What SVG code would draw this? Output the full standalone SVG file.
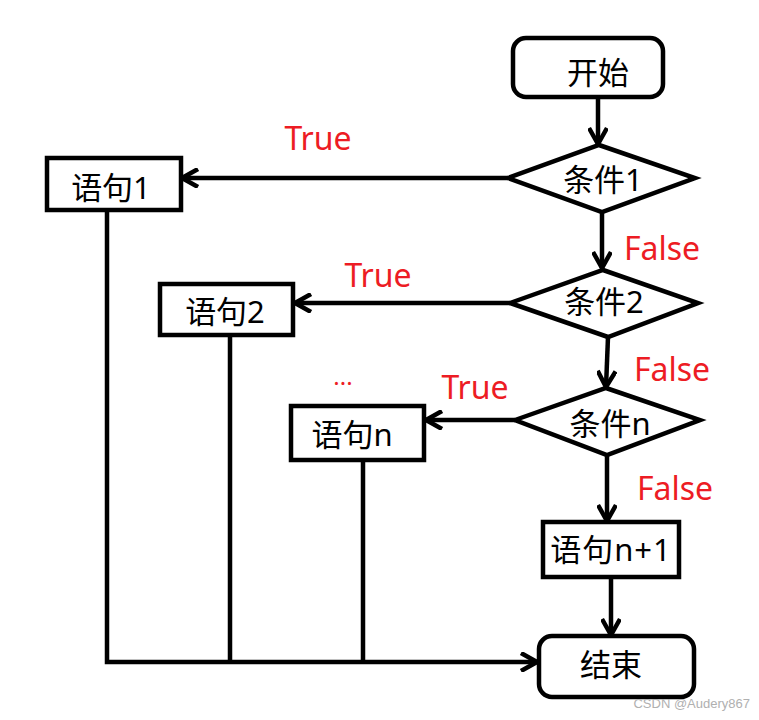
<svg xmlns="http://www.w3.org/2000/svg" width="759" height="720" viewBox="0 0 759 720">
<style>
.s{fill:#fff;stroke:#000;stroke-width:4.5;stroke-linejoin:miter}
.c{fill:none;stroke:#000;stroke-width:4.5}
.t{font-family:"Noto Sans","Noto Sans CJK SC",sans-serif;font-size:31px;fill:#000;text-anchor:middle;dominant-baseline:central}
.r{font-family:"Noto Sans","Noto Sans CJK SC",sans-serif;font-size:32px;fill:#ed1c24;text-anchor:middle;dominant-baseline:central}
</style>
<defs>
<marker id="a" viewBox="0 0 20 20" refX="18" refY="10" markerWidth="20" markerHeight="20" markerUnits="userSpaceOnUse" orient="auto">
<path d="M2,1 L18,10 L2,19" fill="none" stroke="#000" stroke-width="4.5"/>
</marker>
</defs>
<rect width="759" height="720" fill="#fff"/>
<g id="connectors">
<line class="c" x1="598" y1="97" x2="598" y2="144" marker-end="url(#a)"/>
<line class="c" x1="508" y1="178" x2="182" y2="178" marker-end="url(#a)"/>
<line class="c" x1="602" y1="212" x2="602" y2="268" marker-end="url(#a)"/>
<line class="c" x1="510" y1="303" x2="295" y2="303" marker-end="url(#a)"/>
<line class="c" x1="608" y1="337" x2="606" y2="387" marker-end="url(#a)"/>
<line class="c" x1="515" y1="420" x2="426" y2="420" marker-end="url(#a)"/>
<line class="c" x1="607" y1="455" x2="607" y2="521" marker-end="url(#a)"/>
<line class="c" x1="611" y1="577" x2="611" y2="635" marker-end="url(#a)"/>
<polyline class="c" points="107,210 107,662 537,662" marker-end="url(#a)"/>
<line class="c" x1="230" y1="335" x2="230" y2="664"/>
<line class="c" x1="363" y1="460" x2="363" y2="662"/>
<text class="r" x="318" y="137">True</text>
<text class="r" x="662" y="247">False</text>
<text class="r" x="378" y="274">True</text>
<text class="r" x="672" y="368">False</text>
<text class="r" x="475" y="386">True</text>
<text class="r" x="343" y="375" style="font-size:24px">...</text>
<text class="r" x="675" y="487">False</text>
</g>
<g id="start">
<rect class="s" x="513" y="38" width="150" height="59" rx="13"/>
<text class="t" x="598" y="72">开始</text>
</g>
<g id="cond1">
<polygon class="s" points="508,178 599,145 695,178 602,212"/>
<text class="t" x="603" y="179">条件1</text>
</g>
<g id="stmt1">
<rect class="s" x="47" y="158" width="134" height="52"/>
<text class="t" x="111" y="187">语句1</text>
</g>
<g id="cond2">
<polygon class="s" points="510,303 603,270 698,303 608,337"/>
<text class="t" x="604" y="301">条件2</text>
</g>
<g id="stmt2">
<rect class="s" x="160" y="284" width="133" height="51"/>
<text class="t" x="225" y="311">语句2</text>
</g>
<g id="condn">
<polygon class="s" points="515,420 606,388 700,420 607,455"/>
<text class="t" x="610" y="423">条件n</text>
</g>
<g id="stmtn">
<rect class="s" x="291" y="406" width="133" height="54"/>
<text class="t" x="352" y="434">语句n</text>
</g>
<g id="stmtn1">
<rect class="s" x="543" y="522" width="136" height="55"/>
<text class="t" x="611" y="549" style="letter-spacing:1px">语句n+1</text>
</g>
<g id="end">
<rect class="s" x="539" y="636" width="155" height="61" rx="13"/>
<text class="t" x="611" y="664">结束</text>
</g>
<text x="750" y="708" style="font-family:'Liberation Sans',sans-serif;font-size:13px;fill:#b0b0b0;text-anchor:end">CSDN @Audery867</text>
</svg>
